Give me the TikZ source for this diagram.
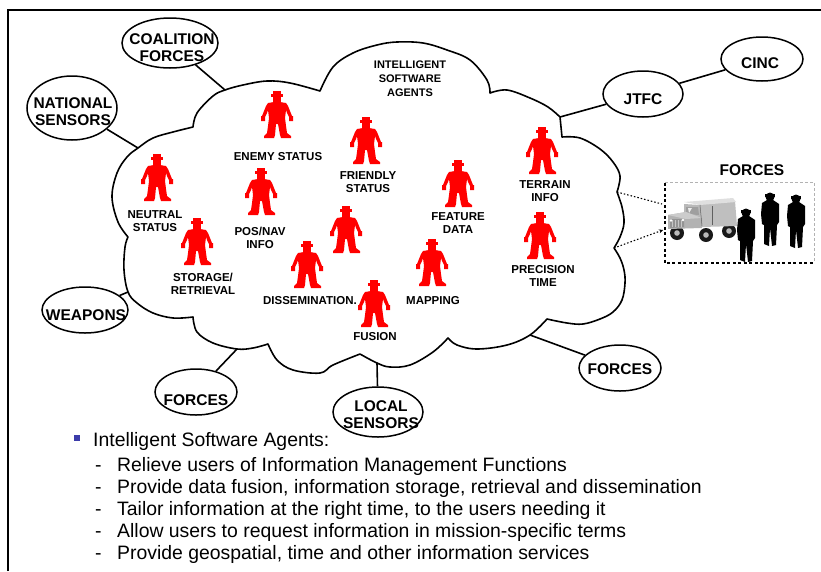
\documentclass[tikz,border=0pt]{standalone}
\usepackage{fontspec}
\setmainfont{Liberation Sans}
\usetikzlibrary{shapes.geometric,arrows.meta}

\definecolor{agentred}{RGB}{255,0,0}
\definecolor{bulletblue}{RGB}{60,60,170}

\tikzset{
  cloudline/.style={line width=1.6pt, line join=round},
  link/.style={line width=1.6pt},
  ell/.style={draw, ellipse, line width=1.5pt, inner sep=0pt},
  elltext/.style={font=\bfseries\fontsize{15.5}{17}\selectfont, align=center, inner sep=0pt},
  agentlabel/.style={font=\bfseries\fontsize{11.5}{13.5}\selectfont, align=center, inner sep=0pt},
  titlelabel/.style={font=\bfseries\fontsize{11}{14}\selectfont, align=center, inner sep=0pt},
  bullettext/.style={font=\fontsize{19.4}{22}\selectfont, anchor=base west, inner sep=0pt},
  dotlink/.style={line width=1.1pt, dash pattern=on 1.5pt off 2pt},
  agent/.pic={
    \fill[agentred] (-4,0) rectangle (4,4);
    \fill[agentred] (-6.5,3) rectangle (6,5.5);
    \fill[agentred] (-4,5) rectangle (4,11.5);
    \fill[agentred] (-3,11) -- (-9,12) -- (-11,15) -- (-13,20) -- (-15,25) -- (-16,25)
      -- (-16,30) -- (-12,30) -- (-12,26) -- (-10,22) -- (-9,19) -- (-8,27) -- (-9,35)
      -- (-10,42) -- (-13,45) -- (-13,47) -- (-3,47) -- (-2,44) -- (-1,33) -- (1,33)
      -- (3,44) -- (4,47) -- (14,47) -- (14,45) -- (10,42) -- (9,35) -- (8,27) -- (9,19)
      -- (10,22) -- (12,26) -- (12,30) -- (16,30) -- (16,25) -- (15,25) -- (13,20)
      -- (11,15) -- (9,12) -- (3,11) -- cycle;
  },
  soldier/.pic={
    \fill[black] (-5,2) rectangle (5,4.5);
    \fill[black] (0,5) circle[x radius=4.5, y radius=4.5];
    \fill[black] (-3,8) -- (-8,11) -- (-9,22) -- (-8,32) -- (-6,33) -- (-6,52) -- (-1,54)
      -- (0,36) -- (2,54) -- (6,53) -- (7,33) -- (9,30) -- (9,12) -- (3,8) -- cycle;
  }
}

\begin{document}
\begin{tikzpicture}[x=1pt, y=-1pt]
\useasboundingbox (0,0) rectangle (821,571);

% outer frame (top and left sides)
\draw[line width=2pt] (8,571) -- (8,10) -- (821,10);

% the cloud of agents
\draw[cloudline]
  plot[smooth, tension=0.6] coordinates {(128,237) (118,222) (112,197) (117,173) (127,157) (138,148) (153,138) (173,132) (193,127)}
  -- plot[smooth, tension=0.6] coordinates {(193,127) (197,113) (213,96) (225,90) (243,85) (267,81) (290,83) (320,91)}
  -- plot[smooth, tension=0.6] coordinates {(320,91) (333,67) (353,53) (377,45) (397,42) (423,43) (447,50) (470,60) (487,80) (490,93)}
  -- plot[smooth, tension=0.6] coordinates {(490,93) (507,90) (530,98) (548,107) (560,117)}
  -- (562,137)
  -- plot[smooth, tension=0.6] coordinates {(562,137) (580,138) (600,149) (613,162) (620,176) (617,192)}
  -- plot[smooth, tension=0.6] coordinates {(617,192) (622,207) (624,223) (620,237) (614,248)}
  -- plot[smooth, tension=0.6] coordinates {(614,248) (620,258) (624,270) (625,283) (622,300) (613,312) (600,319) (583,324) (567,323) (547,319)}
  -- plot[smooth, tension=0.6] coordinates {(547,319) (530,335) (507,345) (477,349) (457,345) (448,338)}
  -- plot[smooth, tension=0.6] coordinates {(448,338) (433,352) (410,365) (390,367) (377,363) (360,354)}
  -- plot[smooth, tension=0.6] coordinates {(360,354) (333,365) (320,373) (293,370) (277,360) (268,344)}
  -- plot[smooth, tension=0.6] coordinates {(268,344) (253,348) (237,349) (213,343) (197,332) (193,317)}
  -- plot[smooth, tension=0.6] coordinates {(193,317) (173,318) (153,313) (137,303) (128,292) (124,270) (125,247) (128,237)}
  -- cycle;

% points where the links meet the cloud
\coordinate (cNat) at (138,148);
\coordinate (cCoal) at (225,90);
\coordinate (cJtfc) at (560,117);
\coordinate (cWeap) at (128,292);
\coordinate (cForL) at (237,349);
\coordinate (cLoc) at (377,363);
\coordinate (cForR) at (530,335);
\coordinate (cDot1) at (617,192);
\coordinate (cDot2) at (614,248);

% outside elements
\node[ell, minimum width=90pt, minimum height=64pt] (nat) at (72,108) {};
\node[elltext] (natT) at (73,112) {NATIONAL\\SENSORS};
\node[ell, minimum width=96pt, minimum height=50pt] (coal) at (170,43) {};
\node[elltext] (coalT) at (172,48) {COALITION\\FORCES};
\node[ell, minimum width=80pt, minimum height=46pt] (jtfc) at (643,94) {};
\node[elltext] (jtfcT) at (643,99) {JTFC};
\node[ell, minimum width=82pt, minimum height=44pt] (cinc) at (762,59) {};
\node[elltext] (cincT) at (760,63) {CINC};
\node[ell, minimum width=86pt, minimum height=46pt] (weap) at (85,310) {};
\node[elltext] (weapT) at (86,315) {WEAPONS};
\node[ell, minimum width=82pt, minimum height=46pt] (forL) at (196,392) {};
\node[elltext] (forLT) at (196,400) {FORCES};
\node[ell, minimum width=90pt, minimum height=50pt] (loc) at (378,412) {};
\node[elltext] (locT) at (381,415) {LOCAL\\SENSORS};
\node[ell, minimum width=82pt, minimum height=46pt] (forR) at (620,368) {};
\node[elltext] (forRT) at (620,369) {FORCES};

% links
\draw[link] (nat) -- (cNat);
\draw[link] (coal) -- (cCoal);
\draw[link] (jtfc) -- (cJtfc);
\draw[link] (jtfc) -- (cinc);
\draw[link] (weap) -- (cWeap);
\draw[link] (forL) -- (cForL);
\draw[link] (loc) -- (cLoc);
\draw[link] (forR) -- (cForR);

% title inside the cloud
\node[titlelabel] (isa) at (410,79) {INTELLIGENT\\SOFTWARE\\AGENTS};

% agents
\pic (aEnemy) at (277,91) {agent};
\pic (aFriend) at (366,117) {agent};
\pic (aNeutral) at (157,154) {agent};
\pic (aPos) at (261,168) {agent};
\pic (aStore) at (197,218) {agent};
\pic (aDiss) at (307,241) {agent};
\pic (aMid) at (346,206) {agent};
\pic (aFusion) at (374,280) {agent};
\pic (aFeature) at (458,160) {agent};
\pic (aMap) at (432,239) {agent};
\pic (aTerrain) at (542,127) {agent};
\pic (aPrec) at (540,212) {agent};

\node[agentlabel] (lEnemy) at (278,157) {ENEMY STATUS};
\node[agentlabel] (lFriend) at (368,182) {FRIENDLY\\STATUS};
\node[agentlabel] (lNeutral) at (155,221) {NEUTRAL\\STATUS};
\node[agentlabel] (lPos) at (260,238) {POS/NAV\\INFO};
\node[agentlabel] (lStore) at (203,284) {STORAGE/\\RETRIEVAL};
\node[agentlabel] (lDiss) at (310,301) {DISSEMINATION.};
\node[agentlabel] (lFusion) at (375,337) {FUSION};
\node[agentlabel] (lFeature) at (458,223) {FEATURE\\DATA};
\node[agentlabel] (lMap) at (433,301) {MAPPING};
\node[agentlabel] (lTerrain) at (545,191) {TERRAIN\\INFO};
\node[agentlabel] (lPrec) at (543,276) {PRECISION\\TIME};

% forces group box
\node[elltext] (fTitle) at (752,170) {FORCES};
\node[minimum width=149pt, minimum height=80pt, inner sep=0pt] (fbox) at (739.5,223) {};
\draw[gray!60, line width=0.8pt, dash pattern=on 3pt off 2pt] (fbox.north west) -- (fbox.north east) -- (fbox.south east);
\draw[black, line width=1.6pt, dash pattern=on 3pt off 2.5pt] (fbox.north west) -- (fbox.south west) -- (fbox.south east);
\coordinate (bIn1) at (662,204);
\coordinate (bIn2) at (663,230);
\draw[dotlink] (cDot1) -- (bIn1);
\draw[dotlink, -{Stealth[length=4pt,width=4pt]}] (cDot2) -- (bIn2);

% vehicle: wheels first, body over them
\foreach \wx/\wy in {677/233, 706/235, 729/231} {
  \fill[gray!20!black] (\wx,\wy) circle[radius=7];
  \fill[gray!55] (\wx,\wy) circle[radius=2.8];
}
\fill[gray!50] (700,204) -- (735,201) -- (737,226) -- (702,227) -- cycle;
\fill[gray!25] (684,202) -- (733,198) -- (736,202) -- (700,205) -- cycle;
\fill[gray!55] (684,204) -- (700,205) -- (702,222) -- (684,218) -- cycle;
\fill[gray!75] (686,207) -- (698,207) -- (699,215) -- (686,214) -- cycle;
\fill[gray!15] (688,208) -- (692,208) -- (689,213) -- cycle;
\fill[gray!60] (668,215) -- (686,212) -- (702,218) -- (702,228) -- (668,229) -- cycle;
\fill[gray!40] (668,215) -- (686,212) -- (702,218) -- (686,219) -- cycle;
\fill[gray!85] (670,219) -- (684,219) -- (684,227) -- (670,228) -- cycle;
\foreach \gx in {672,675,678,681} \draw[gray!45, line width=0.6pt] (\gx,220) -- (\gx,227);
\fill[white] (671,220.5) circle[radius=1.3];
\fill[white] (683,220) circle[radius=1.3];
\draw[gray!75!black, line width=0.5pt] (712,206) -- (712,225);
\draw[gray!75!black, line width=0.5pt] (700,205) -- (702,226);

% soldiers
\pic (s1) at (746,208) {soldier};
\pic (s2) at (770,192) {soldier};
\pic (s3) at (796,194) {soldier};

% notes below the cloud
\node[fill=bulletblue, minimum size=6pt, inner sep=0pt] (bsq) at (77,438) {};
\node[bullettext] (b0) at (93,446.5) {Intelligent Software Agents:};
\node[bullettext] (d1) at (95,471.5) {-};
\node[bullettext] (t1) at (117,471.5) {Relieve users of Information Management Functions};
\node[bullettext] (d2) at (95,493.5) {-};
\node[bullettext] (t2) at (117,493.5) {Provide data fusion, information storage, retrieval and dissemination};
\node[bullettext] (d3) at (95,515.5) {-};
\node[bullettext] (t3) at (117,515.5) {Tailor information at the right time, to the users needing it};
\node[bullettext] (d4) at (95,537.5) {-};
\node[bullettext] (t4) at (117,537.5) {Allow users to request information in mission-specific terms};
\node[bullettext] (d5) at (95,559.5) {-};
\node[bullettext] (t5) at (117,559.5) {Provide geospatial, time and other information services};
\end{tikzpicture}
\end{document}
